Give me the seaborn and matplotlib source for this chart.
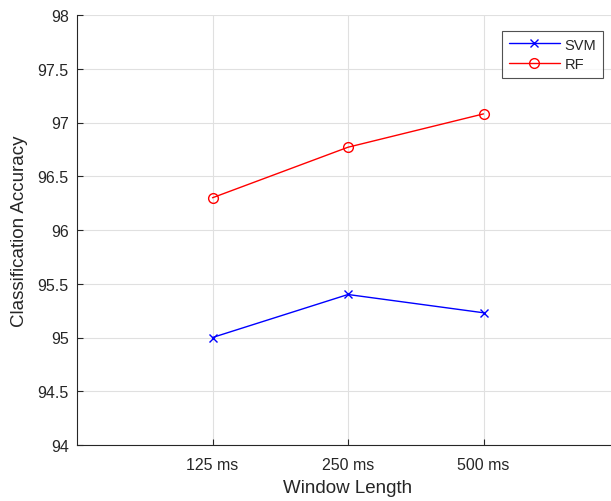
import matplotlib
matplotlib.use("Agg")
import matplotlib.pyplot as plt
import seaborn as sns
import pandas as pd

windows = ["125 ms", "250 ms", "500 ms"]
svm_acc = [95.00, 95.40, 95.23]
rf_acc = [96.30, 96.77, 97.08]
yticks = [94, 94.5, 95, 95.5, 96, 96.5, 97, 97.5, 98]

sns.set_style("white")
plt.rcParams['font.family'] = ['Liberation Sans', 'DejaVu Sans']

pos = list(range(1, len(windows) + 1))
df = pd.DataFrame({
    "pos": pos * 2,
    "acc": svm_acc + rf_acc,
    "model": ["SVM"] * 3 + ["RF"] * 3,
})

fig = plt.figure(figsize=(6.11, 5.02), dpi=100)
W, H = 611, 502
left, right, top, bottom = 77, 619, 16, 446
ax = fig.add_axes([left / W, 1 - bottom / H, (right - left) / W, (bottom - top) / H])

sns.lineplot(data=df[df.model == "SVM"], x="pos", y="acc", ax=ax, color="#0000ff",
             marker="x", markersize=6, markeredgecolor="#0000ff", markeredgewidth=1.0,
             linewidth=1.0, label="SVM")
sns.lineplot(data=df[df.model == "RF"], x="pos", y="acc", ax=ax, color="#ff0000",
             marker="o", markersize=7, markerfacecolor="none", markeredgecolor="#ff0000",
             markeredgewidth=1.0, linewidth=1.0, label="RF")

ax.set_xlim(0, 4)
ax.set_ylim(94, 98)
ax.set_xticks(pos)
ax.set_xticklabels(windows)
ax.set_yticks(yticks)
ax.set_yticklabels([f"{v:g}" for v in yticks])
ax.grid(True, color="#e0e0e0", linewidth=0.8)
ax.set_axisbelow(True)
for s in ["top", "right"]:
    ax.spines[s].set_visible(False)
for s in ["left", "bottom"]:
    ax.spines[s].set_color("#262626")
    ax.spines[s].set_linewidth(0.8)
ax.tick_params(axis="both", direction="in", length=4, width=0.8, colors="#262626",
               labelsize=11.5, labelcolor="#262626", bottom=True, left=True)
ax.tick_params(axis="y", pad=6)
ax.tick_params(axis="x", pad=9)
ax.set_xlabel("Window Length", fontsize=13.5, color="#262626", labelpad=5)
ax.set_ylabel("Classification Accuracy", fontsize=13.5, color="#262626", labelpad=7)

leg = ax.legend(loc="upper right",
                bbox_to_anchor=((603 - left) / (right - left), (bottom - 32) / (bottom - top)),
                borderaxespad=0, fontsize=10.5, frameon=True, fancybox=False,
                edgecolor="#262626", handlelength=3.5, borderpad=0.45,
                labelspacing=0.4, handletextpad=0.35)
leg.get_frame().set_linewidth(0.8)

fig.savefig("out.png", dpi=100)
